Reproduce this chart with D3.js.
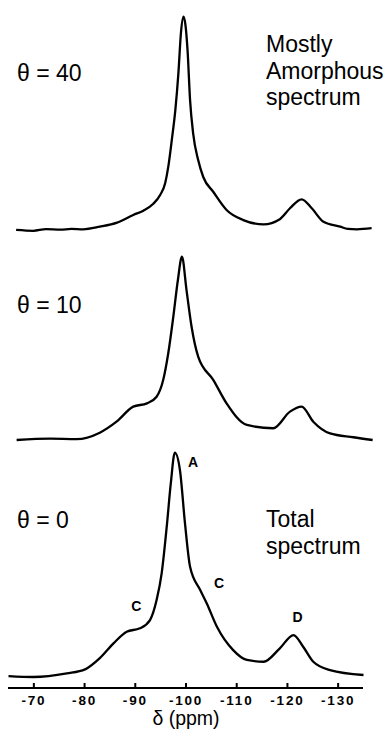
<!DOCTYPE html>
<html lang="en">
<head>
    <meta charset="utf-8">
    <title>NMR spectra</title>
    <script type="text/javascript" src="https://cdnjs.cloudflare.com/ajax/libs/d3/7.8.5/d3.min.js"></script>
	<style>
	body { margin: 0; background: #fff; }
	.trace { fill: none; stroke: #000; stroke-width: 2.3; stroke-linejoin: round; }
	.lbl { font-family: "Liberation Sans", Arial, sans-serif; fill: #000; }
	.axis path, .axis line { stroke: #000; stroke-width: 2; }
	.axis text { font: bold 13.5px "Liberation Sans", Arial, sans-serif; letter-spacing: 1.8px; fill: #000; }
	</style>
</head>
<body>
    <script type="text/javascript">
      // chemical shift (ppm) and relative intensity
      var ppm40 = [-66.6, -70, -72.5, -75.3, -77.5, -79.8, -83.1, -86.5, -89.7, -91.7, -93.6, -95, -96, -96.6, -97.3, -98, -98.6, -99.1, -99.6, -100.0, -100.4, -100.9, -101.5, -102.5, -103.5, -105.5, -108.1, -111.4, -115.4, -118.6, -120.6, -122.9, -124.9, -127.2, -130.5, -132, -133.8, -136.7];
      var int40 = [0.5, 0.1, 0.9, 0.6, 1.0, 0.8, 2.0, 3.9, 7.5, 9.5, 12.6, 16.8, 22.4, 29.9, 42.5, 56.5, 73.7, 92.4, 100, 96, 84.5, 61.1, 45.7, 33.1, 25.2, 18.2, 9.8, 5.1, 3.1, 5.5, 10.6, 14.8, 10.6, 4.3, 2.0, 1.0, 0.8, 1.3];

      var ppm10 = [-66.7, -73.3, -78.5, -83.1, -86.4, -89.7, -92.4, -94.3, -95.6, -96.6, -97.6, -98.5, -99.3, -100.2, -101.2, -102.5, -105.5, -108.1, -112.1, -117.3, -120.6, -122.9, -125.2, -128.5, -133.1, -136.9];
      var int10 = [0, 0.7, 0.5, 4.0, 10.0, 18.2, 20.0, 23.6, 32.7, 47.3, 67.3, 87.3, 100, 81.8, 61.8, 45.5, 32.7, 20.0, 8.2, 6.4, 15.5, 18.2, 10.0, 3.6, 1.5, 0];

      var ppm0 = [-65.1, -70, -76.6, -80.2, -83.1, -85.8, -88.4, -91, -93, -94.3, -95.3, -96.3, -97.1, -97.9, -98.9, -99.9, -100.9, -102.9, -104.2, -106.2, -109.4, -112.1, -115.4, -118.6, -121.3, -123.2, -125.2, -128.5, -135.1];
      var int0 = [0.4, 0, 1.6, 3.4, 8.4, 15.0, 20.2, 21.7, 25.4, 34.3, 46.2, 67.0, 86.3, 100, 92.3, 68.5, 49.2, 38.8, 32.8, 22.4, 12.0, 7.6, 6.8, 12.8, 18.7, 13.5, 6.8, 3.1, 0.9];

      var tickVals = [-70, -80, -90, -100, -110, -120, -130];

      var width = 390, height = 733;

      var svg = d3.select("body").append("svg")
      .attr("width", width)
      .attr("height", height);

      //shared ppm scale (reversed, as usual for NMR)
      var x = d3.scaleLinear()
      .domain([-65, -135])
      .range([8, 363]);

      //one vertical scale per stacked spectrum
      var panels = [
        {ppm: ppm40, val: int40, y: d3.scaleLinear().domain([0, 100]).range([231, 16.7])},
        {ppm: ppm10, val: int10, y: d3.scaleLinear().domain([0, 100]).range([440, 256.7])},
        {ppm: ppm0, val: int0, y: d3.scaleLinear().domain([0, 100]).range([677, 452.7])}
      ];

      panels.forEach(function(p) {
        var pts = p.ppm.map(function(d, i) { return [d, p.val[i]]; });
        var line = d3.line()
        .x(function(d) { return x(d[0]); })
        .y(function(d) { return p.y(d[1]); })
        .curve(d3.curveMonotoneX);
        svg.append("path")
        .attr("class", "trace")
        .attr("d", line(pts));
      });

      //axis with ticks pointing up
      svg.append("g")
      .attr("class", "axis")
      .attr("transform", "translate(0,688)")
      .call(d3.axisBottom(x).tickValues(tickVals).tickSize(-5).tickPadding(7)
        .tickFormat(function(d) { return String(d); }))
      .call(function(g) { g.select(".domain").attr("d", "M8,0H363"); });

      svg.append("text").attr("class", "lbl")
      .attr("x", 186).attr("y", 725)
      .attr("text-anchor", "middle")
      .style("font-size", "19.5px")
      .text("δ (ppm)");

      //angle labels
      var thetaLabels = [["θ = 40", 81], ["θ = 10", 313], ["θ = 0", 528]];
      thetaLabels.forEach(function(t) {
        svg.append("text").attr("class", "lbl")
        .attr("x", 17).attr("y", t[1])
        .style("font-size", "23px")
        .text(t[0]);
      });

      //right side captions
      var capTop = ["Mostly", "Amorphous", "spectrum"];
      capTop.forEach(function(s, i) {
        svg.append("text").attr("class", "lbl")
        .attr("x", 266).attr("y", 52 + i * 26.5)
        .style("font-size", "23px")
        .text(s);
      });
      var capBot = ["Total", "spectrum"];
      capBot.forEach(function(s, i) {
        svg.append("text").attr("class", "lbl")
        .attr("x", 266).attr("y", 527 + i * 27)
        .style("font-size", "23px")
        .text(s);
      });

      //peak letters on the total spectrum
      var peakNames = ["A", "C", "C", "D"];
      var peakPpm = [-101.5, -90.3, -106.6, -122.1];
      var peakInt = [93.5, 29.5, 39.5, 24.3];
      peakNames.forEach(function(n, i) {
        svg.append("text").attr("class", "lbl")
        .attr("x", x(peakPpm[i])).attr("y", panels[2].y(peakInt[i]))
        .attr("text-anchor", "middle")
        .style("font-size", "14px").style("font-weight", "bold")
        .text(n);
      });
    </script>
</body>
</html>
